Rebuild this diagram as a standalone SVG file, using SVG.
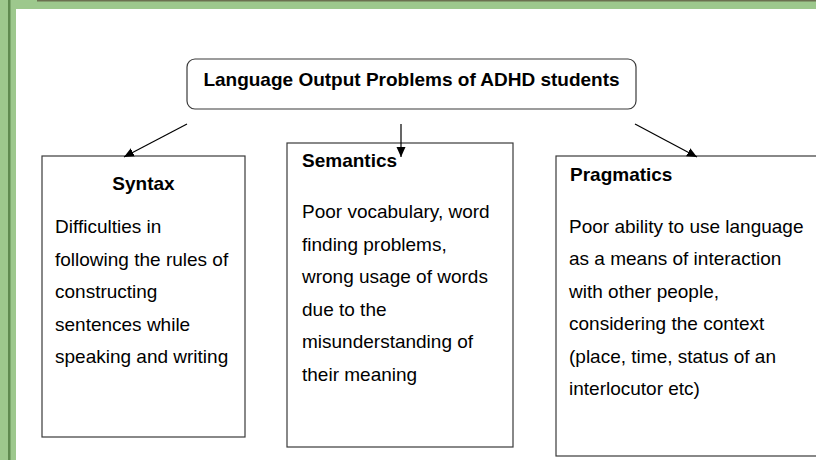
<svg xmlns="http://www.w3.org/2000/svg" width="816" height="460" viewBox="0 0 816 460">
  <style>
    .box { fill: #ffffff; stroke: #3a3a3a; stroke-width: 1.2; }
    .title { font-family: "Liberation Sans", Arial, sans-serif; font-size: 19px; font-weight: bold; fill: #000; }
    .body { font-family: "Liberation Sans", Arial, sans-serif; font-size: 19px; fill: #000; }
    .conn { stroke: #000; stroke-width: 1.2; fill: none; marker-end: url(#arrow); }
  </style>
  <defs>
    <marker id="arrow" viewBox="0 0 10 10" refX="10" refY="5" markerWidth="10" markerHeight="10" markerUnits="userSpaceOnUse" orient="auto">
      <path d="M0,0.5 L10,5 L0,9.5 Z" fill="#000"/>
    </marker>
  </defs>
  <rect x="0" y="0" width="816" height="460" fill="#ffffff"/>
  <!-- green frame -->
  <rect x="0" y="0" width="816" height="9" fill="#9dc88d"/>
  <rect x="37" y="0" width="779" height="1.5" fill="#6b7050"/>
  <rect x="0" y="0" width="16" height="460" fill="#9dc88d"/>
  <rect x="8" y="0" width="2.5" height="460" fill="#5f8a50"/>

  <g id="root">
    <rect class="box" x="187" y="59" width="449" height="50" rx="8" ry="8"/>
    <text class="title" x="411.5" y="86" text-anchor="middle">Language Output Problems of ADHD students</text>
  </g>

  <g id="syntax">
    <rect class="box" x="42" y="156" width="203" height="281"/>
    <text class="title" x="143.5" y="190" text-anchor="middle">Syntax</text>
    <text class="body" x="55" y="233">Difficulties in</text>
    <text class="body" x="55" y="265.5">following the rules of</text>
    <text class="body" x="55" y="298">constructing</text>
    <text class="body" x="55" y="330.5">sentences while</text>
    <text class="body" x="55" y="363">speaking and writing</text>
  </g>

  <g id="semantics">
    <rect class="box" x="287" y="143" width="226" height="304"/>
    <text class="title" x="302" y="167">Semantics</text>
    <text class="body" x="302" y="218">Poor vocabulary, word</text>
    <text class="body" x="302" y="250.5">finding problems,</text>
    <text class="body" x="302" y="283">wrong usage of words</text>
    <text class="body" x="302" y="315.5">due to the</text>
    <text class="body" x="302" y="348">misunderstanding of</text>
    <text class="body" x="302" y="380.5">their meaning</text>
  </g>

  <g id="pragmatics">
    <rect class="box" x="556" y="156" width="266" height="300"/>
    <text class="title" x="570" y="181">Pragmatics</text>
    <text class="body" x="569" y="232.5">Poor ability to use language</text>
    <text class="body" x="569" y="265">as a means of interaction</text>
    <text class="body" x="569" y="297.5">with other people,</text>
    <text class="body" x="569" y="330">considering the context</text>
    <text class="body" x="569" y="362.5">(place, time, status of an</text>
    <text class="body" x="569" y="395">interlocutor etc)</text>
  </g>

  <g id="connectors">
    <line class="conn" x1="187" y1="124" x2="124" y2="157"/>
    <line class="conn" x1="401" y1="124" x2="401" y2="157"/>
    <line class="conn" x1="635" y1="124" x2="697" y2="157"/>
  </g>
</svg>
